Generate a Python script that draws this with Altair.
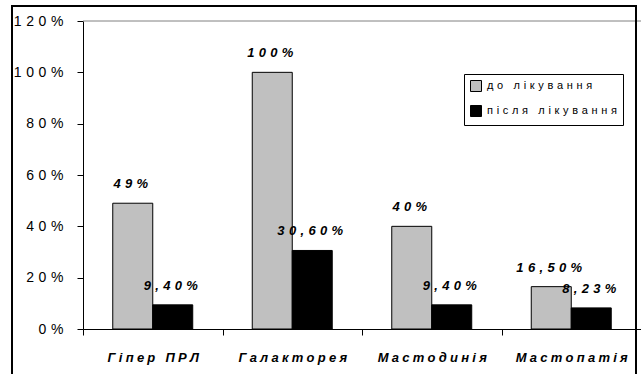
import altair as alt
import pandas as pd

categories = ["Гіпер ПРЛ", "Галакторея", "Мастодинія", "Мастопатія"]
series = ["до лікування", "після лікування"]
before = [49, 100, 40, 16.5]
after = [9.4, 30.6, 9.4, 8.23]
before_labels = ["49%", "100%", "40%", "16,50%"]
after_labels = ["9,40%", "30,60%", "9,40%", "8,23%"]
y_ticks = [0, 20, 40, 60, 80, 100, 120]
colors = ["#c0c0c0", "#000000"]

rows = []
for c, v, l in zip(categories, before, before_labels):
    rows.append({"cat": c, "series": series[0], "value": v, "label": l})
for c, v, l in zip(categories, after, after_labels):
    rows.append({"cat": c, "series": series[1], "value": v, "label": l})
df = pd.DataFrame(rows)

SEP = "\u2004"
SEP_X = "\u2005"
spaced = lambda s, sep=SEP: f"join(split({s}, ''), '{sep}')"
FONT = "Liberation Sans"

x = alt.X("cat:N", sort=categories, title=None,
          scale=alt.Scale(paddingInner=0, paddingOuter=0),
          axis=alt.Axis(labelAngle=0, tickBand="extent", tickSize=6, tickColor="black",
                        domainColor="black", labelFont=FONT, labelFontSize=13,
                        labelFontWeight="bold", labelFontStyle="italic", labelColor="black",
                        labelPadding=16, labelExpr=spaced("datum.label", SEP_X)))
xoff = alt.XOffset("series:N", sort=series,
                   scale=alt.Scale(paddingInner=0, paddingOuter=0.744))
y = alt.Y("value:Q", title=None,
          scale=alt.Scale(domain=[0, 120], nice=False),
          axis=alt.Axis(values=y_ticks, grid=False, tickSize=6, tickColor="black",
                        domainColor="black", labelFont=FONT, labelFontSize=14,
                        labelColor="black", labelPadding=14,
                        labelExpr=spaced("datum.value + '%'")))

base = alt.Chart(df)

bars = base.mark_bar(stroke="black", strokeWidth=1).encode(
    x=x, xOffset=xoff, y=y,
    color=alt.Color("series:N", sort=series, title=None,
                    scale=alt.Scale(domain=series, range=colors),
                    legend=alt.Legend(orient="none", legendX=381, legendY=53,
                                      labelExpr=spaced("datum.label"))),
)

labels = base.transform_calculate(disp=spaced("datum.label")).mark_text(
    font=FONT, fontSize=13, fontWeight="bold", fontStyle="italic",
    baseline="alphabetic", dy=-15, dx=-2, color="black"
).encode(x=x, xOffset=xoff, y=y, text="disp:N")

top_line = alt.Chart(alt.Data(values=[{"v": 120}])).mark_rule(
    color="#808080", strokeWidth=1
).encode(y=alt.Y("v:Q"))

frame = alt.Chart(alt.Data(values=[{"a": 1}])).mark_rect(
    fillOpacity=0, stroke="black", strokeWidth=2
).encode(x=alt.value(-71), x2=alt.value(553), y=alt.value(-15), y2=alt.value(370))

chart = alt.layer(top_line, bars, labels, frame).properties(
    width=558, height=308,
    autosize=alt.AutoSizeParams(type="none"),
    padding={"left": 83, "top": 21, "right": 0, "bottom": 45},
    background="white",
).configure_view(strokeWidth=0).configure_legend(
    strokeColor="black", fillColor="white", padding=6,
    symbolType="square", symbolSize=121, symbolStrokeColor="black",
    symbolStrokeWidth=1, labelFont=FONT, labelFontSize=11, labelColor="black",
    rowPadding=9, labelOffset=5,
)

chart.save("out.html", embed_options={"renderer": "svg", "actions": False})
